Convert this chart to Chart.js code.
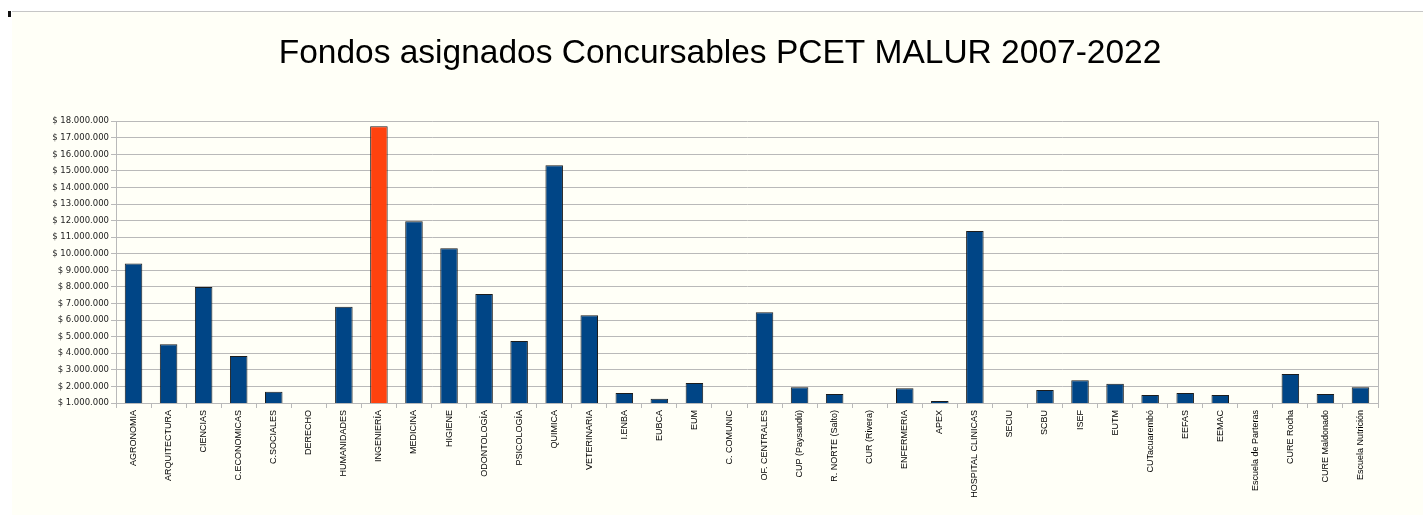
<!DOCTYPE html>
<html>
<head>
<meta charset="utf-8">
<script src="https://cdn.jsdelivr.net/npm/chart.js@4.4.1/dist/chart.umd.min.js"></script>
<style>
  body { margin: 0; background: #ffffff; }
  #fondo {
    position: absolute; left: 12px; top: 11px; width: 1411px; height: 503px;
    background: #fffff7; border-top: 1px solid #c6c6c6;
  }
  #marca { position: absolute; left: 8px; top: 11px; width: 3px; height: 6px; background: #111; }
  #grafico { position: absolute; left: 0; top: 0; }
</style>
</head>
<body>
<div id="fondo"></div>
<div id="marca"></div>
<canvas id="grafico" width="1423" height="515"></canvas>
<script>
    const titulo = 'Fondos asignados Concursables PCET MALUR 2007-2022';

    // Servicios (eje x)
    const servicios = [
        'AGRONOMIA', 'ARQUITECTURA', 'CIENCIAS', 'C.ECONOMICAS', 'C.SOCIALES', 'DERECHO',
        'HUMANIDADES', 'INGENIERÍA', 'MEDICINA', 'HIGIENE', 'ODONTOLOGÍA', 'PSICOLOGÍA',
        'QUIMICA', 'VETERINARIA', 'I.ENBA', 'EUBCA', 'EUM', 'C. COMUNIC',
        'OF. CENTRALES', 'CUP (Paysandú)', 'R. NORTE (Salto)', 'CUR (Rivera)', 'ENFERMERIA', 'APEX',
        'HOSPITAL CLINICAS', 'SECIU', 'SCBU', 'ISEF', 'EUTM', 'CUTacuarembó',
        'EEFAS', 'EEMAC', 'Escuela de Parteras', 'CURE Rocha', 'CURE Maldonado', 'Escuela Nutrición'
    ];

    // Fondos asignados en pesos (null = sin barra visible)
    const fondos = [
        9420000, 4540000, 8000000, 3830000, 1680000, null,
        6800000, 17700000, 11970000, 10340000, 7570000, 4740000,
        15350000, 6300000, 1600000, 1250000, 2200000, null,
        6470000, 1950000, 1540000, null, 1890000, 1120000,
        11370000, null, 1780000, 2370000, 2160000, 1480000,
        1600000, 1480000, null, 2750000, 1540000, 1950000
    ];

    // Eje y
    const yMin = 1000000;
    const yMax = 18000000;
    const yPaso = 1000000;

    const destacado = ['INGENIERÍA'];
    const azul = '#004586';
    const naranja = '#ff420e';
    const gris = '#b9b9b9';

    function formatoPesos(v) {
        return '$ ' + String(Math.round(v)).replace(/\B(?=(\d{3})+(?!\d))/g, '.');
    }

    const colores = servicios.map(s => destacado.includes(s) ? naranja : azul);

    new Chart(document.getElementById('grafico'), {
        type: 'bar',
        data: {
            labels: servicios,
            datasets: [{
                label: 'Fondos',
                data: fondos,
                backgroundColor: colores,
                borderColor: '#1c1c1c',
                borderWidth: 1,
                categoryPercentage: 1,
                barPercentage: 0.5
            }]
        },
        options: {
            responsive: false,
            animation: false,
            devicePixelRatio: 1,
            layout: { padding: { left: 17, right: 0, top: 0, bottom: 0 } },
            plugins: {
                legend: { display: false },
                tooltip: { enabled: false },
                title: {
                    display: true,
                    text: titulo,
                    color: '#000',
                    font: { family: 'Liberation Sans', size: 33.5, weight: 'normal' },
                    padding: { top: 34, bottom: 47 }
                }
            },
            scales: {
                x: {
                    grid: { display: true, drawOnChartArea: false, drawTicks: true, tickLength: 5, color: gris, offset: true },
                    border: { color: gris },
                    ticks: {
                        autoSkip: false, maxRotation: 90, minRotation: 90, padding: 2,
                        color: '#000',
                        font: { family: 'Liberation Sans', size: 9 }
                    },
                    afterFit: s => { s.height = 112; }
                },
                y: {
                    min: yMin,
                    max: yMax,
                    grid: { color: gris, tickLength: 5 },
                    border: { color: gris },
                    ticks: {
                        stepSize: yPaso, padding: 2, color: '#222',
                        font: { family: 'DejaVu Sans', size: 8.5 },
                        callback: v => formatoPesos(v)
                    },
                    afterFit: s => { s.width = 99; }
                },
                y2: {
                    position: 'right',
                    grid: { drawOnChartArea: false, drawTicks: false },
                    border: { color: gris },
                    ticks: { display: false },
                    afterFit: s => { s.width = 45; }
                }
            }
        }
    });
</script>
</body>
</html>
